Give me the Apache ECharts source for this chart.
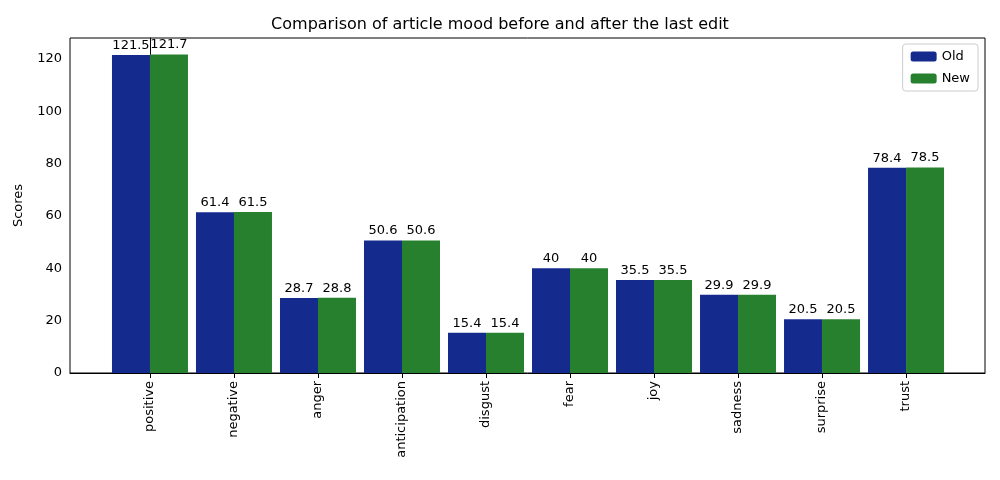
<!DOCTYPE html>
<html>
<head>
<meta charset="utf-8">
<script src="https://cdn.jsdelivr.net/npm/echarts@6/dist/echarts.min.js"></script>
<style>body{margin:0}#c{width:1000px;height:480px}</style>
</head>
<body>
<div id="c"></div>
<script>
var categories = ["positive", "negative", "anger", "anticipation", "disgust", "fear", "joy", "sadness", "surprise", "trust"];
var oldScores = [121.5, 61.4, 28.7, 50.6, 15.4, 40, 35.5, 29.9, 20.5, 78.4];
var newScores = [121.7, 61.5, 28.8, 50.6, 15.4, 40, 35.5, 29.9, 20.5, 78.5];
var yTicks = [0, 20, 40, 60, 80, 100, 120];

var chart = echarts.init(document.getElementById('c'));
var idx = categories.map(function (c, i) { return i; });
function pairs(arr) { return arr.map(function (v, i) { return [i, v]; }); }
var lbl = { show: true, position: 'top', distance: 3, color: '#000', fontSize: 13, fontFamily: 'DejaVu Sans' };

chart.setOption({
    animation: false,
    textStyle: { fontFamily: 'DejaVu Sans' },
    title: {
        text: 'Comparison of article mood before and after the last edit',
        left: 'center', top: 12,
        textStyle: { fontSize: 16, fontWeight: 'normal', color: '#000' }
    },
    legend: {
        right: 22, top: 44, orient: 'vertical',
        itemWidth: 26, itemHeight: 10, itemGap: 9,
        borderColor: '#ccc', borderWidth: 1, borderRadius: 3, padding: [6, 8],
        textStyle: { fontSize: 13, color: '#000' },
        data: ['Old', 'New']
    },
    grid: { left: 70, right: 15, top: 38, bottom: 107 },
    xAxis: {
        type: 'value', min: -0.952, max: 9.94,
        axisLine: { show: true, onZero: false, lineStyle: { color: '#000' } },
        splitLine: { show: false },
        axisTick: { show: true, customValues: idx, lineStyle: { color: '#000' } },
        axisLabel: {
            customValues: idx, rotate: 90, fontSize: 13, color: '#000',
            formatter: function (v) { return categories[Math.round(v)]; }
        }
    },
    yAxis: {
        type: 'value', min: 0, max: 128,
        name: 'Scores', nameLocation: 'middle', nameGap: 45,
        nameTextStyle: { fontSize: 13, color: '#000' },
        axisLine: { show: true, lineStyle: { color: '#000' } },
        splitLine: { show: false },
        axisTick: { show: true, customValues: yTicks, lineStyle: { color: '#000' } },
        axisLabel: { customValues: yTicks, fontSize: 13, color: '#000' }
    },
    graphic: [{
        type: 'rect', shape: { x: 70, y: 38, width: 915, height: 335 },
        style: { fill: 'none', stroke: '#000', lineWidth: 1 }, silent: true
    }],
    series: [
        { name: 'Old', type: 'bar', data: pairs(oldScores), barWidth: 38, barGap: '0%',
          itemStyle: { color: '#142a8c' }, label: lbl },
        { name: 'New', type: 'bar', data: pairs(newScores), barWidth: 38, barGap: '0%',
          itemStyle: { color: '#27802e' }, label: lbl }
    ]
});
</script>
</body>
</html>
